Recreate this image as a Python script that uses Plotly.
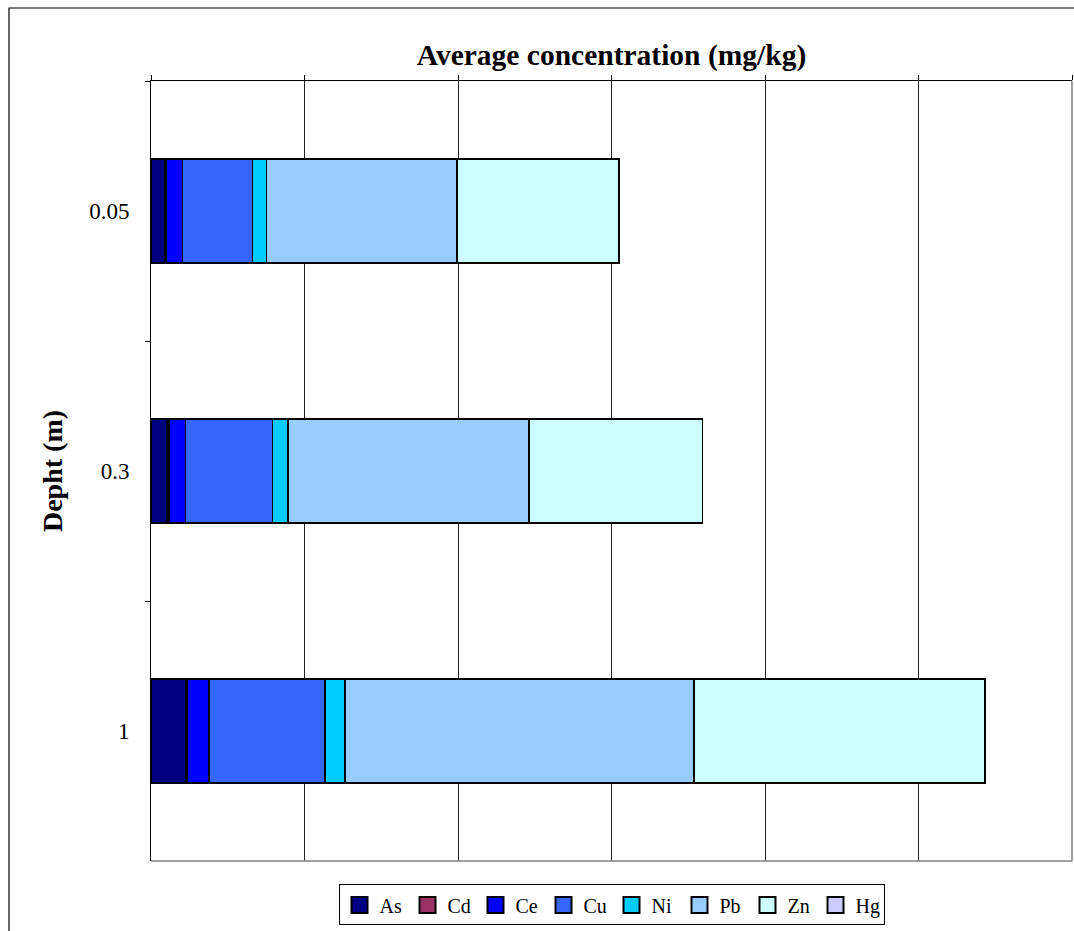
import plotly.graph_objects as go

depths = ["0.05", "0.3", "1"]
elements = ["As", "Cd", "Ce", "Cu", "Ni", "Pb", "Zn", "Hg"]
colors = ["#000080", "#993366", "#0000FF", "#3366FF", "#00CCFF", "#99CCFF", "#CCFFFF", "#CCCCFF"]

As = [46, 52, 114]
Cd = [5, 6, 5]
Ce = [52, 54, 70]
Cu = [228, 283, 378]
Ni = [46, 52, 65]
Pb = [619, 785, 1137]
Zn = [528, 564, 948]
Hg = [0, 0, 0]
values = [As, Cd, Ce, Cu, Ni, Pb, Zn, Hg]

FONT = "Liberation Serif"

fig = go.Figure()
for name, col, vals in zip(elements, colors, values):
    fig.add_trace(go.Bar(
        y=depths, x=vals, name=name, orientation="h", showlegend=False,
        legendgroup=name,
        marker=dict(color=col, line=dict(color="black", width=1.5)),
    ))
# legend entries with square swatches
for name, col in zip(elements, colors):
    fig.add_trace(go.Scatter(
        x=[None], y=[None], mode="markers", name=name, legendgroup=name,
        marker=dict(symbol="square", size=16, color=col, line=dict(color="black", width=2)),
    ))

fig.update_layout(
    barmode="stack",
    bargap=0.6,
    width=1074, height=931,
    margin=dict(l=151, r=2, t=81, b=70),
    paper_bgcolor="white", plot_bgcolor="white",
    font=dict(family=FONT, color="black", size=20),
    showlegend=True,
    legend=dict(
        orientation="h", x=0.5, xanchor="center", y=-0.03, yanchor="top",
        bordercolor="black", borderwidth=1, font=dict(size=20, family=FONT),
        traceorder="normal", itemwidth=30, tracegroupgap=0, entrywidth=23,
    ),
    xaxis=dict(
        side="top", range=[0, 3000], dtick=500, showticklabels=False,
        ticks="outside", ticklen=5, tickcolor="black",
        showline=True, linecolor="black", linewidth=1,
        showgrid=True, gridcolor="#222222", gridwidth=1, zeroline=False,
        title=dict(text="<b>Average concentration (mg/kg)</b>", font=dict(size=29.5, family=FONT), standoff=0),
    ),
    yaxis=dict(
        type="category", categoryorder="array", categoryarray=depths,
        autorange="reversed",
        ticks="outside", ticklen=5, tickcolor="black", tickson="boundaries",
        ticklabelstandoff=16,
        showline=True, linecolor="black", linewidth=1, showgrid=False,
        tickfont=dict(size=23, family=FONT),
        title=dict(text="<b>Depht (m)</b>", font=dict(size=28, family=FONT), standoff=18),
    ),
    shapes=[
        dict(type="line", xref="paper", yref="paper", x0=1, x1=1, y0=0, y1=1,
             line=dict(color="#808080", width=1.5)),
        dict(type="line", xref="paper", yref="paper", x0=0, x1=1, y0=0, y1=0,
             line=dict(color="#808080", width=1.5)),
        dict(type="rect", xref="paper", yref="paper", x0=-0.1542, x1=1.2, y0=-0.3, y1=1.0936,
             line=dict(color="black", width=1.2)),
    ],
)

fig.write_html("out.html", config={"displayModeBar": False},
               post_script="document.body.style.margin='0px';")
